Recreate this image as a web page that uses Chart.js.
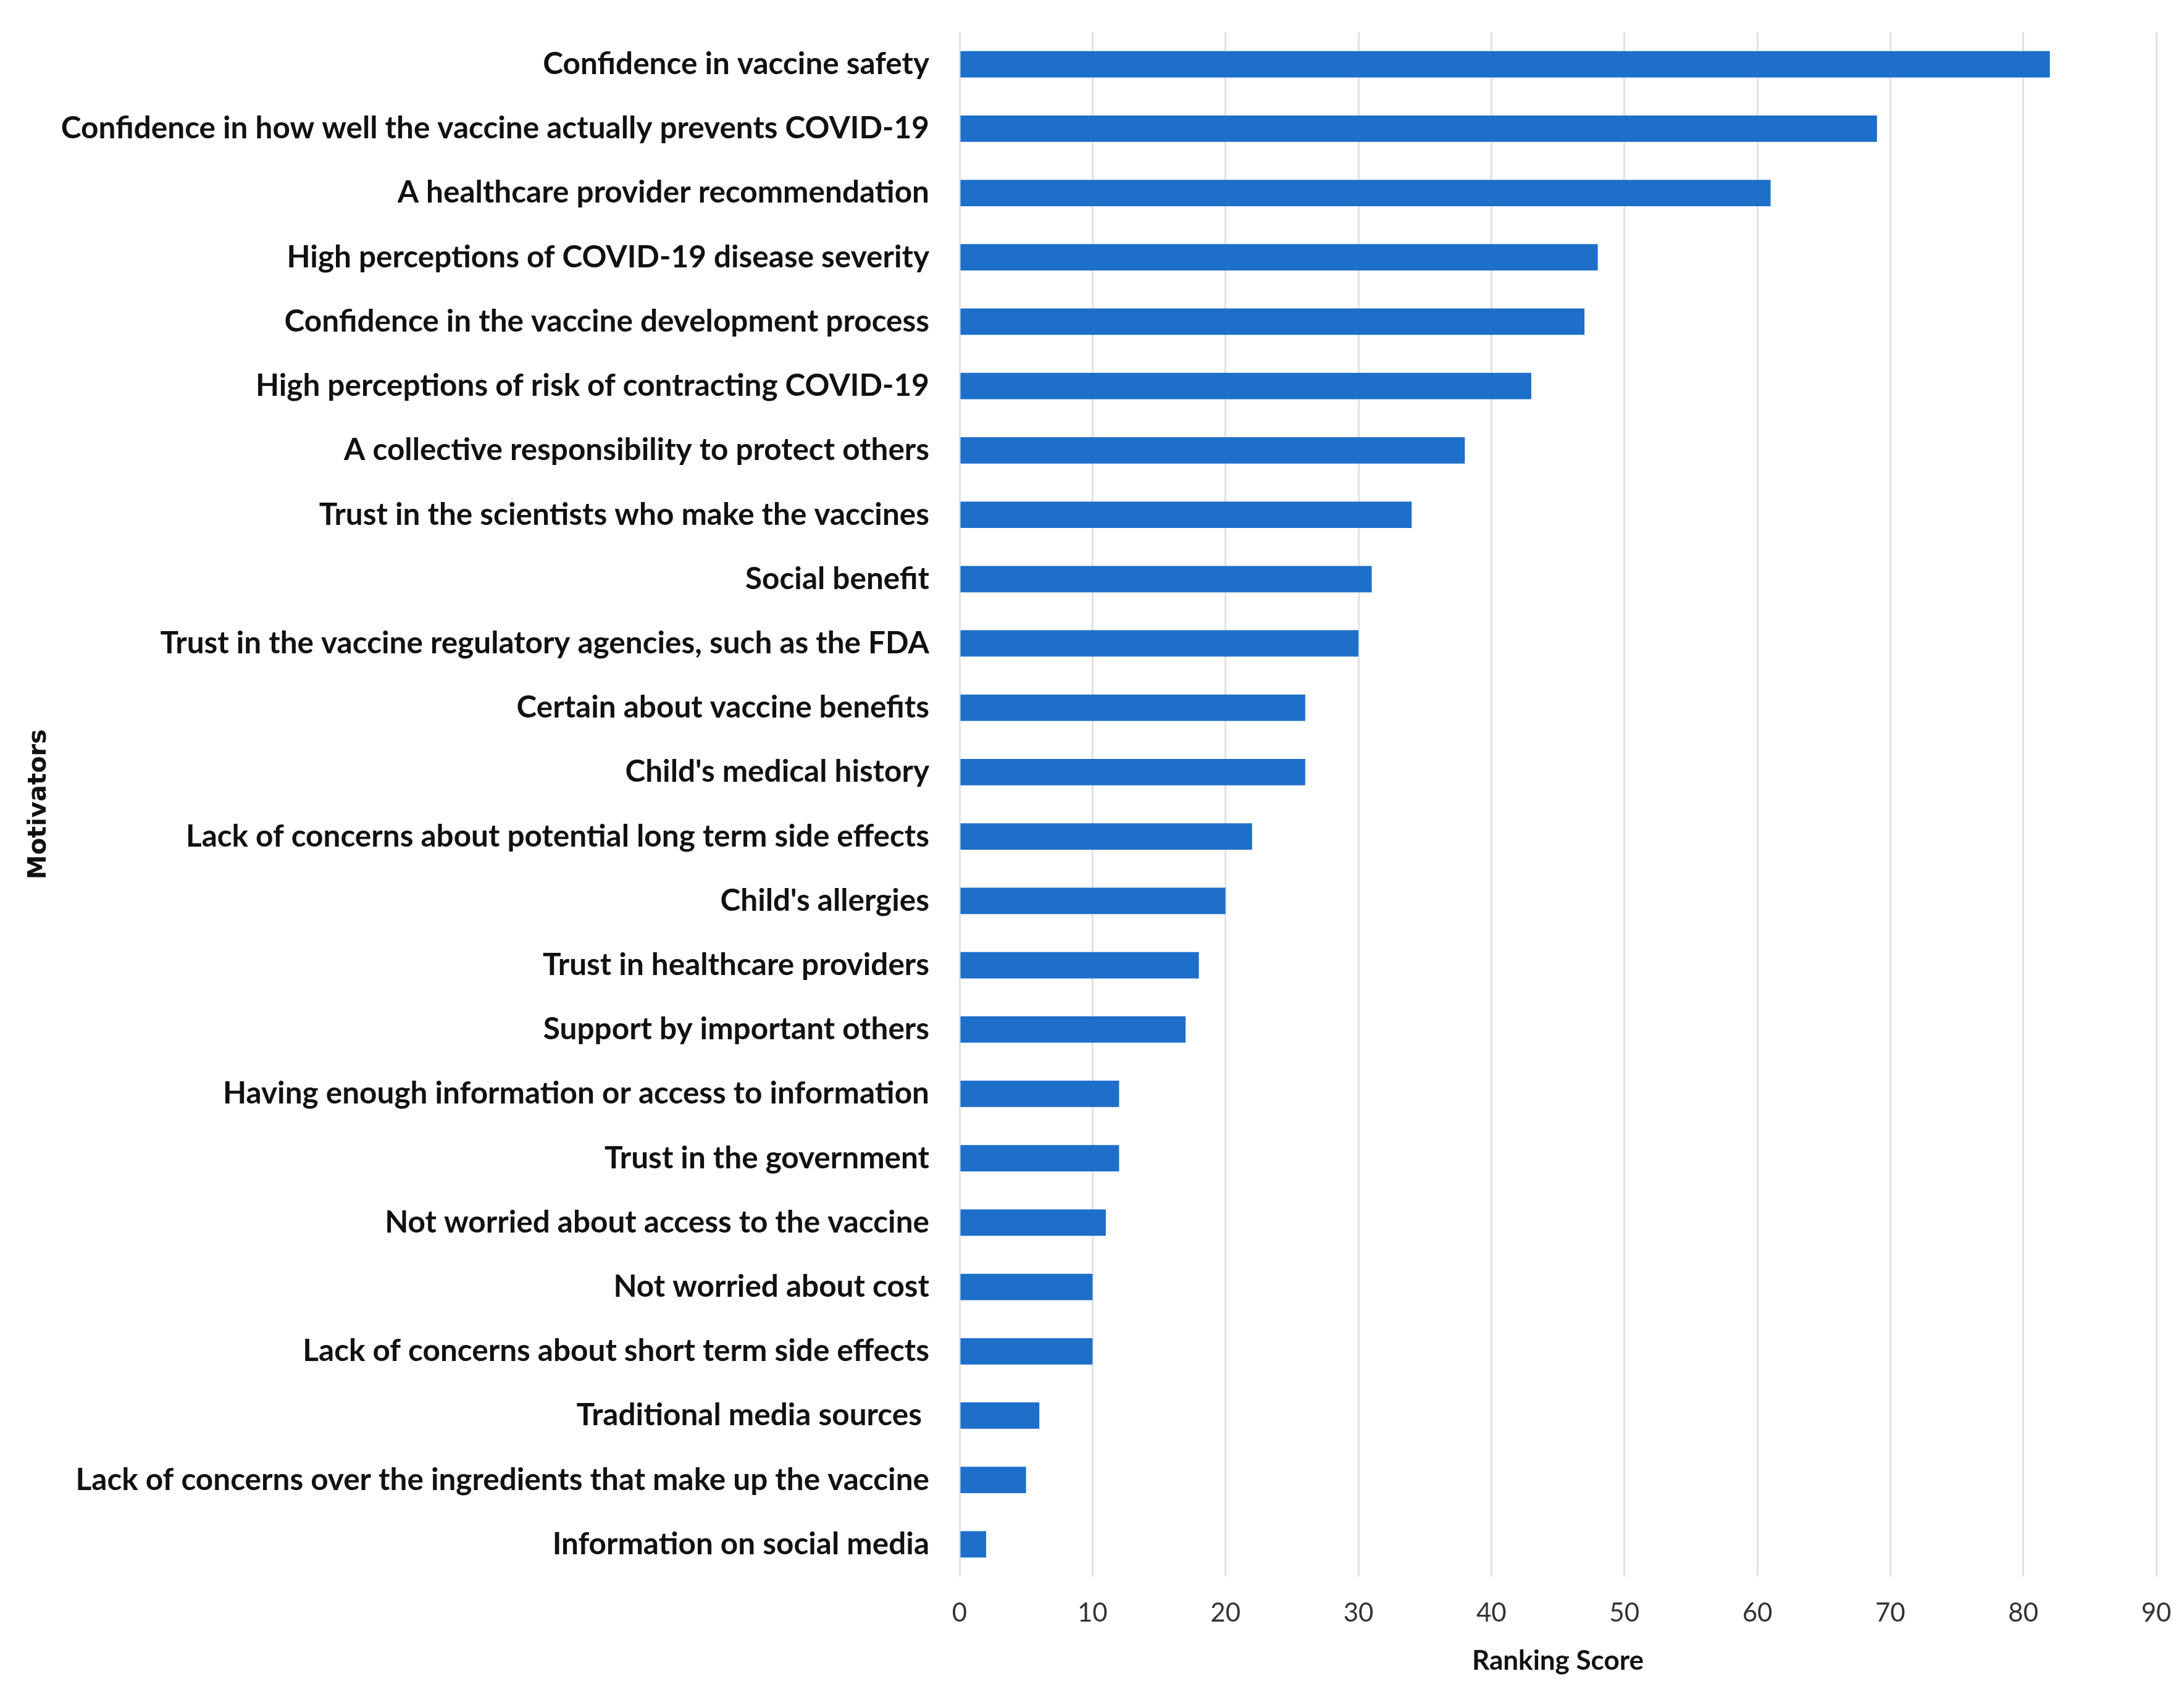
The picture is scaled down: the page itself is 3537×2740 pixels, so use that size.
<!DOCTYPE html>
<html>
<head>
<meta charset="utf-8">
<script src="https://cdn.jsdelivr.net/npm/chart.js@4.4.0/dist/chart.umd.min.js"></script>
<style>
  html, body { margin: 0; padding: 0; background: #ffffff; }
  #wrap { width: 3537px; height: 2740px; }
</style>
</head>
<body>
<div id="wrap"><canvas id="motivatorsChart" width="3537" height="2740"></canvas></div>
<script>
// motivators and their ranking scores, top to bottom
const motivators = [
    "Confidence in vaccine safety",
    "Confidence in how well the vaccine actually prevents COVID-19",
    "A healthcare provider recommendation",
    "High perceptions of COVID-19 disease severity",
    "Confidence in the vaccine development process",
    "High perceptions of risk of contracting COVID-19",
    "A collective responsibility to protect others",
    "Trust in the scientists who make the vaccines",
    "Social benefit",
    "Trust in the vaccine regulatory agencies, such as the FDA",
    "Certain about vaccine benefits",
    "Child's medical history",
    "Lack of concerns about potential long term side effects",
    "Child's allergies",
    "Trust in healthcare providers",
    "Support by important others",
    "Having enough information or access to information",
    "Trust in the government",
    "Not worried about access to the vaccine",
    "Not worried about cost",
    "Lack of concerns about short term side effects",
    "Traditional media sources ",
    "Lack of concerns over the ingredients that make up the vaccine",
    "Information on social media"
];
const rankingScores = [82, 69, 61, 48, 47, 43, 38, 34, 31, 30, 26, 26, 22, 20, 18, 17, 12, 12, 11, 10, 10, 6, 5, 2];
const xTicks = [0, 10, 20, 30, 40, 50, 60, 70, 80, 90];

const ctx = document.getElementById("motivatorsChart").getContext("2d");
new Chart(ctx, {
    type: "bar",
    data: {
        labels: motivators,
        datasets: [{
            label: "Ranking Score",
            data: rankingScores,
            backgroundColor: "#1e6fc9",
            borderWidth: 0,
            categoryPercentage: 1,
            barPercentage: 0.41
        }]
    },
    options: {
        indexAxis: "y",
        responsive: false,
        devicePixelRatio: 1,
        animation: false,
        layout: { padding: { left: 0, right: 45, top: 52, bottom: 0 } },
        plugins: {
            legend: { display: false },
            tooltip: { enabled: false }
        },
        scales: {
            x: {
                min: xTicks[0],
                max: xTicks[xTicks.length - 1],
                afterBuildTicks: function (scale) {
                    scale.ticks = xTicks.map(v => ({ value: v }));
                },
                afterFit: function (scale) {
                    scale.height = 187;
                    scale.paddingRight = 0;
                },
                border: { display: false },
                grid: { color: "#e2e2e2", lineWidth: 3, drawTicks: false },
                ticks: {
                    padding: 34,
                    color: "#333333",
                    font: { family: "Lato", size: 42 }
                },
                title: {
                    display: true,
                    text: "Ranking Score",
                    color: "#111111",
                    padding: { top: 0, bottom: 24 },
                    font: { family: "Lato", size: 44, weight: "bold" }
                }
            },
            y: {
                afterFit: function (scale) {
                    scale.width = 1554;
                    scale.paddingTop = 0;
                    scale.paddingBottom = 0;
                },
                border: { display: false },
                grid: { display: false, drawTicks: false },
                ticks: {
                    padding: 49,
                    autoSkip: false,
                    color: "#111111",
                    font: { family: "Lato", size: 49.5, weight: "bold" }
                },
                title: {
                    display: true,
                    text: "Motivators",
                    color: "#111111",
                    padding: { top: 40, bottom: 0 },
                    font: { family: "DejaVu Sans", size: 40, weight: "bold" }
                }
            }
        }
    }
});
</script>
</body>
</html>
